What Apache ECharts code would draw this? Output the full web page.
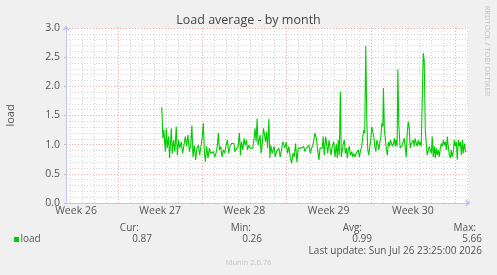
<!DOCTYPE html>
<html>
<head>
<meta charset="utf-8">
<script src="https://cdn.jsdelivr.net/npm/echarts@6/dist/echarts.min.js"></script>
<style>
html,body{margin:0;padding:0;background:#f0f0f0;}
#c{width:497px;height:275px;}
</style>
</head>
<body>
<div id="c"></div>
<script>
// x = days since the start of Week 27
const days = [
3.63,3.72,3.80,3.92,4.00,4.08,4.19,4.28,4.42,4.50,4.61,4.72,4.83,4.92,5.03,5.13,5.25,5.36,5.47,5.58,
5.69,5.80,5.92,6.03,6.13,6.22,6.33,6.44,6.55,6.67,6.78,6.88,7.00,7.08,7.17,7.25,7.36,7.47,7.58,7.69,
7.80,7.92,8.03,8.13,8.25,8.33,8.42,8.53,8.63,8.75,8.86,8.97,9.08,9.19,9.30,9.42,9.53,9.63,
9.69,9.83,9.97,10.08,10.17,10.25,10.36,10.47,10.55,10.67,10.75,10.86,10.97,11.08,11.19,11.30,11.38,11.47,11.55,11.63,
11.72,11.80,11.88,11.97,12.08,12.17,12.25,12.33,12.42,12.53,12.61,12.69,12.80,12.88,12.97,13.05,13.17,13.28,13.36,13.47,
13.58,13.69,13.78,13.86,13.97,14.08,14.19,14.30,14.42,14.53,14.63,14.75,14.86,14.97,15.08,15.19,15.30,15.42,15.53,15.63,
15.75,15.86,15.97,16.08,16.19,16.30,
16.36,16.50,16.58,16.69,16.78,16.86,16.97,17.05,17.13,17.25,17.33,17.42,17.53,17.61,17.69,17.80,17.92,18.03,18.13,18.22,
18.30,18.38,18.47,18.55,18.63,18.72,18.80,18.88,18.97,19.05,19.13,19.22,19.30,19.42,19.50,19.58,19.69,19.78,19.86,19.97,
20.05,20.13,20.25,20.33,20.42,20.50,20.58,20.67,20.75,20.83,20.92,21.00,21.08,21.17,21.25,21.33,21.42,21.50,21.58,21.67,
21.75,21.83,21.92,22.00,22.05,22.13,22.22,22.30,22.38,22.47,22.55,22.63,22.72,22.80,22.88,22.97,
23.03,23.11,23.19,23.25,23.33,23.38,23.44,23.52,23.61,23.69,23.78,23.86,23.94,24.03,24.11,24.19,24.28,24.36,24.44,24.53,
24.61,24.69,24.78,24.86,24.94,25.03,25.11,25.19,25.28,25.36,25.44,25.53,25.61,25.69,25.78,25.86,25.94,26.03,26.11,26.19,
26.28,26.36,26.44,26.53,26.61,26.69,26.78,26.86,26.94,27.03,27.11,27.19,27.28,27.36,27.44,27.53,27.61,27.69,27.78,27.86,
27.94,28.03,28.11,28.19,28.28,28.36,28.44,28.53,28.61,28.69,28.78,28.86,28.92
];
const loads = [
1.64,1.11,1.25,0.88,1.28,0.94,1.14,0.77,1.28,0.85,1.08,0.88,1.31,0.82,1.08,0.94,1.05,0.85,0.99,1.14,
0.97,1.17,0.88,0.99,1.33,0.79,0.99,0.74,0.94,0.99,0.82,0.85,1.14,1.37,0.88,0.71,0.97,0.77,0.94,0.85,
0.82,0.88,0.79,0.85,0.99,1.20,0.91,0.97,0.79,0.91,0.85,0.99,1.08,0.85,0.97,1.02,0.99,1.02,
0.88,0.85,0.97,1.20,0.82,1.05,0.91,1.11,0.99,1.08,0.91,0.99,0.94,0.97,0.94,1.11,1.28,1.05,1.45,0.99,
1.08,1.17,0.85,0.99,1.28,1.17,1.05,1.22,0.94,1.44,0.77,0.99,0.85,0.82,0.97,0.79,0.88,0.85,0.94,0.79,
0.91,1.05,0.99,0.94,1.05,0.85,0.97,0.79,0.68,0.85,0.79,1.02,0.70,0.94,0.91,0.94,0.91,0.97,0.88,0.94,
0.91,0.99,0.85,0.94,0.99,0.97,
1.20,1.08,0.91,0.74,0.94,0.91,0.94,1.14,0.82,1.14,1.17,0.85,1.08,1.11,0.82,0.97,1.05,0.79,1.02,0.77,
1.08,0.82,1.91,0.79,0.91,1.02,1.08,0.85,0.94,0.77,0.91,0.97,0.82,0.88,0.79,0.85,0.79,0.85,0.82,0.91,
0.79,0.88,0.97,1.14,1.25,1.20,2.69,1.42,0.91,0.82,0.97,1.08,1.31,1.28,1.14,0.97,0.88,1.08,1.02,0.91,
1.05,1.11,1.37,1.31,1.97,1.25,1.08,0.91,0.82,1.05,0.97,1.08,1.05,0.97,1.02,1.11,
0.97,1.08,0.97,2.29,1.34,1.31,0.94,0.91,0.99,0.97,1.11,1.08,0.79,1.20,1.39,1.31,0.94,1.02,0.99,1.08,
0.97,1.11,1.02,0.97,1.08,0.99,1.05,0.97,0.99,2.57,2.45,1.25,1.02,0.82,0.79,0.97,0.91,0.85,1.14,0.79,
0.97,0.77,0.94,0.82,0.91,0.79,0.94,1.02,0.97,1.08,0.99,1.05,0.91,1.14,0.97,0.82,0.77,0.91,0.79,0.88,
1.08,0.97,1.05,0.74,1.08,0.97,1.05,0.82,1.08,0.85,1.02,0.91,0.87
];
const weekLabels = ['Week 26', 'Week 27', 'Week 28', 'Week 29', 'Week 30'];
const statNames = ['Cur:', 'Min:', 'Avg:', 'Max:'];
const statValues = ['0.87', '0.26', '0.99', '5.66'];
const seriesName = 'load';
const titleText = 'Load average - by month';
const lastUpdate = 'Last update: Sun Jul 26 23:25:00 2026';
const footer = 'Munin 2.0.76';
const sideText = 'RRDTOOL / TOBI OETIKER';

const X_MIN = -4.333, X_MAX = 29.08;   // days
const LABEL_SHIFT = 3.5;               // labels sit mid-week

const FONT = '"Open Sans", "Noto Sans", sans-serif';
const axisColor = '#c4c4f4';
const labelColor = '#555';

const chart = echarts.init(document.getElementById('c'), null, {renderer: 'canvas'});

const statNameRight = [139, 251, 362, 476];
const statValueRight = [152, 262, 372, 482];

const graphics = [
  {type: 'text', x: 248.5, y: 20.5, style: {text: titleText, font: '12.5px ' + FONT, fill: '#444', align: 'center', verticalAlign: 'middle', textAlign: 'center', textVerticalAlign: 'middle'}},
  {type: 'text', x: 487.5, y: 51, rotation: -Math.PI / 2, style: {text: sideText, font: '7.6px ' + FONT, fill: '#c4c4c4', align: 'center', verticalAlign: 'middle', textAlign: 'center', textVerticalAlign: 'middle'}},
  {type: 'text', x: 10.5, y: 115.5, rotation: Math.PI / 2, style: {text: 'load', font: '11px ' + FONT, fill: labelColor, align: 'center', verticalAlign: 'middle', textAlign: 'center', textVerticalAlign: 'middle'}},
  {type: 'rect', shape: {x: 14, y: 237, width: 5, height: 5}, style: {fill: '#00cc00'}},
  {type: 'text', x: 20.5, y: 239.5, style: {text: seriesName, font: '10px ' + FONT, fill: labelColor, align: 'left', verticalAlign: 'middle', textAlign: 'left', textVerticalAlign: 'middle'}},
  {type: 'text', x: 482, y: 251, style: {text: lastUpdate, font: '10px ' + FONT, fill: labelColor, align: 'right', verticalAlign: 'middle', textAlign: 'right', textVerticalAlign: 'middle'}},
  {type: 'text', x: 248.5, y: 263, style: {text: footer, font: '7.5px ' + FONT, fill: '#c4c4c4', align: 'center', verticalAlign: 'middle', textAlign: 'center', textVerticalAlign: 'middle'}}
];
statNames.forEach((n, i) => {
  graphics.push({type: 'text', x: statNameRight[i], y: 228, style: {text: n, font: '10px ' + FONT, fill: labelColor, align: 'right', verticalAlign: 'middle', textAlign: 'right', textVerticalAlign: 'middle'}});
  graphics.push({type: 'text', x: statValueRight[i], y: 239.5, style: {text: statValues[i], font: '10px ' + FONT, fill: labelColor, align: 'right', verticalAlign: 'middle', textAlign: 'right', textVerticalAlign: 'middle'}});
});

const option = {
  animation: false,
  backgroundColor: '#f0f0f0',
  textStyle: {fontFamily: FONT},
  grid: {left: 66, right: 29, top: 28, bottom: 72, show: true, backgroundColor: '#ffffff', borderWidth: 0, containLabel: false},
  xAxis: [
    { // day grid + data axis
      type: 'value', position: 'bottom', min: X_MIN, max: X_MAX, minInterval: 1, maxInterval: 1, splitNumber: 34,
      axisLine: {show: true, onZero: false, lineStyle: {color: axisColor, width: 1}, symbol: ['none', 'arrow'], symbolSize: [6, 6], symbolOffset: [0, 3]},
      axisTick: {show: false},
      axisLabel: {show: false},
      splitLine: {show: true, showMinLine: false, showMaxLine: false, lineStyle: {color: '#d4d4d4', type: [1, 2], width: 1}}
    },
    { // week grid
      type: 'value', position: 'bottom', min: X_MIN, max: X_MAX, minInterval: 7, maxInterval: 7, splitNumber: 5,
      axisLine: {show: false, onZero: false},
      axisTick: {show: false},
      axisLabel: {show: false},
      splitLine: {show: true, showMinLine: false, showMaxLine: false, lineStyle: {color: '#f0a8a8', type: [1, 2], width: 1}}
    },
    { // week labels
      type: 'value', position: 'bottom', min: X_MIN + LABEL_SHIFT, max: X_MAX + LABEL_SHIFT, minInterval: 7, maxInterval: 7, splitNumber: 5,
      axisLine: {show: false, onZero: false}, axisTick: {show: false}, splitLine: {show: false},
      axisLabel: {show: true, color: labelColor, fontSize: 10.5, fontFamily: FONT, margin: 3,
        formatter: v => {
          const k = Math.round(v / 7);
          return (Math.abs(v - k * 7) < 1e-6 && weekLabels[k]) ? weekLabels[k] : '';
        }}
    }
  ],
  yAxis: {
    type: 'value', position: 'left', min: 0, max: 3, interval: 0.5,
    axisLine: {show: true, onZero: false, lineStyle: {color: axisColor, width: 1}, symbol: ['none', 'arrow'], symbolSize: [6, 6], symbolOffset: [0, 3]},
    axisTick: {show: true, length: 2, lineStyle: {color: '#bbbbbb'}},
    axisLabel: {color: labelColor, fontSize: 10.5, fontFamily: FONT, margin: 6, formatter: v => v.toFixed(1)},
    splitLine: {show: true, lineStyle: {color: '#f0a8a8', type: [1, 2], width: 1}},
    minorTick: {show: false, splitNumber: 5},
    minorSplitLine: {show: true, lineStyle: {color: '#d4d4d4', type: [1, 2], width: 1}}
  },
  graphic: graphics,
  series: [{
    name: seriesName, type: 'line', xAxisIndex: 0, yAxisIndex: 0,
    showSymbol: false, symbol: 'none', smooth: false,
    lineStyle: {color: '#00cc00', width: 1.1},
    data: days.map((d, i) => [d, loads[i]]),
    z: 5
  }]
};
chart.setOption(option);
</script>
</body>
</html>
